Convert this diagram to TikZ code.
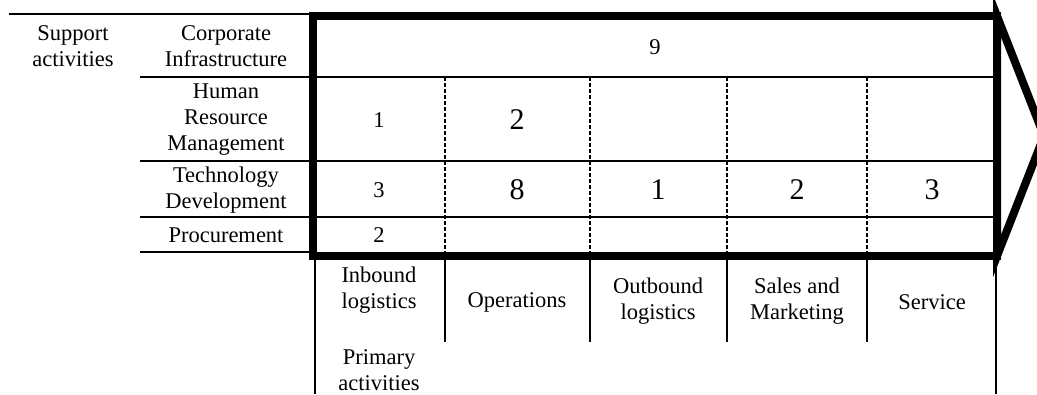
\documentclass[tikz,border=0pt]{standalone}
\usepackage{fontspec}
\setmainfont{Liberation Serif}
\usetikzlibrary{positioning}

\begin{document}
\begin{tikzpicture}[
    x=1bp, y=-1bp,
    lbl/.style={align=center, inner sep=0pt, font=\fontsize{22.5bp}{26bp}\selectfont},
    bignum/.style={inner sep=0pt, font=\fontsize{30bp}{34bp}\selectfont},
    rule/.style={line width=2bp},
    sepline/.style={line width=1.6bp, dash pattern=on 4bp off 2bp},
    frame/.style={line width=8bp}
]
\useasboundingbox (0,0) rectangle (1037,394);

% left column rules
\draw[rule] (9,14) -- (313,14);
\draw[rule] (140,77) -- (997,77);
\draw[rule] (140,161) -- (997,161);
\draw[rule] (140,217) -- (997,217);
\draw[rule] (140,252) -- (313,252);

% activity separators
\foreach \x in {445,590,727,867} {
  \draw[sepline] (\x,77) -- (\x,254);
  \draw[rule] (\x,258) -- (\x,342);
}
\draw[rule] (315,256) -- (315,394);
\draw[rule] (996,256) -- (996,394);

% value chain frame and margin arrow
\draw[frame] (997,16) -- (1044,136) -- (997,256) -- cycle;
\draw[frame] (313,16) rectangle (997,256);

% support activities
\node[lbl] (support) at (73,46) {Support\\activities};
\node[lbl] (infra) at (226,46) {Corporate\\Infrastructure};
\node[lbl] (hrm) at (226,120) {Human\\Resource\\Management};
\node[lbl] (tech) at (226,190) {Technology\\Development};
\node[lbl] (proc) at (226,235) {Procurement};

% values
\node[lbl] (v9) at (655,47) {9};
\node[lbl] (h1) at (379,120) {1};
\node[bignum] (h2) at (517,120) {2};
\node[lbl] (t1) at (379,190) {3};
\node[bignum] (t2) at (517,190) {8};
\node[bignum] (t3) at (658,190) {1};
\node[bignum] (t4) at (797,190) {2};
\node[bignum] (t5) at (932,190) {3};
\node[lbl] (p1) at (379,235) {2};

% primary activities
\node[lbl] (inbound) at (379,290) {Inbound\\logistics};
\node[lbl] (ops) at (517,302) {Operations};
\node[lbl] (outbound) at (658,301) {Outbound\\logistics};
\node[lbl] (sales) at (797,301) {Sales and\\Marketing};
\node[lbl] (service) at (932,302) {Service};
\node[lbl] (primary) at (379,370) {Primary\\activities};
\end{tikzpicture}
\end{document}
